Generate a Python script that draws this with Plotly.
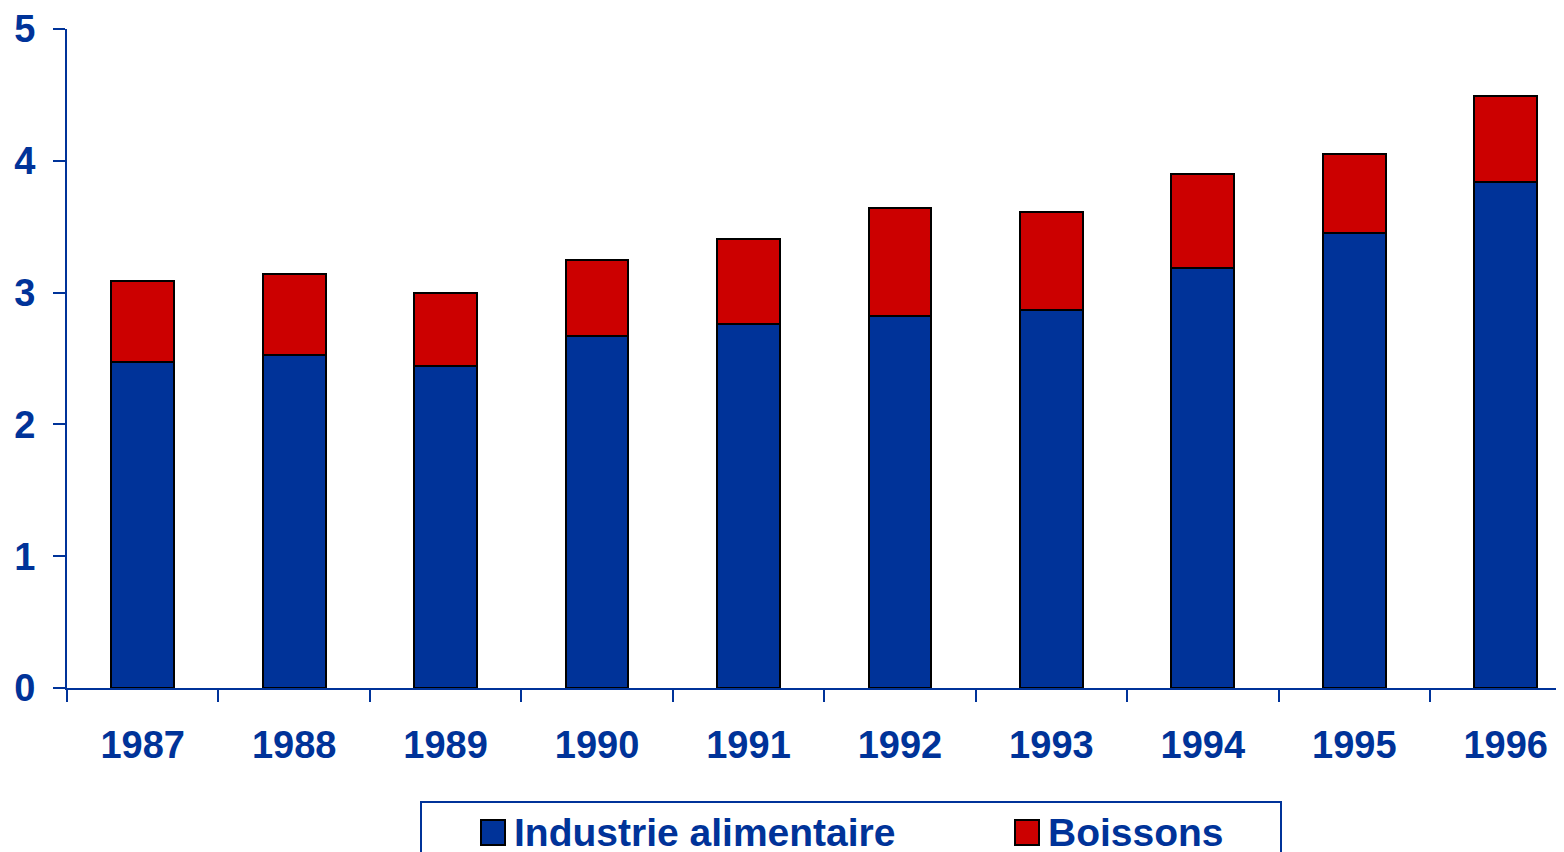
import plotly.graph_objects as go

years = ["1987", "1988", "1989", "1990", "1991", "1992", "1993", "1994", "1995", "1996"]
industrie = [2.47, 2.53, 2.44, 2.67, 2.76, 2.82, 2.87, 3.19, 3.45, 3.84]
boissons = [0.62, 0.61, 0.56, 0.58, 0.65, 0.82, 0.74, 0.71, 0.60, 0.65]
series_names = ["Industrie alimentaire", "Boissons"]
y_ticks = [0, 1, 2, 3, 4, 5]

BLUE = "#003399"
RED = "#CC0000"
TXT = "#003399"
FONT = "Liberation Sans, Arial, sans-serif"

OFF = 8  # page body margin
W, H = 1564, 852
ML, MR, MT = 67 - OFF, 0, 29 - OFF
MB = H - (688 - OFF)
pw = W - ML - MR
ph = H - MT - MB

def px(x):
    return (x - OFF - ML) / pw

def py(y):
    return (H - MB - (y - OFF)) / ph

fig = go.Figure()
fig.add_trace(go.Bar(x=years, y=industrie, name=series_names[0], marker=dict(color=BLUE, line=dict(color="black", width=2)), width=0.415, showlegend=False))
fig.add_trace(go.Bar(x=years, y=boissons, name=series_names[1], marker=dict(color=RED, line=dict(color="black", width=2)), width=0.415, showlegend=False))

cat_px = (1505 - 142) / 9.0
x_max = -0.5 + pw / cat_px

shapes = [
    dict(type="rect", xref="paper", yref="paper", x0=px(421), x1=px(1281), y0=py(802), y1=py(870),
         line=dict(color=BLUE, width=2), fillcolor="rgba(0,0,0,0)"),
    dict(type="rect", xref="paper", yref="paper", x0=px(481), x1=px(505), y0=py(820), y1=py(845),
         line=dict(color="black", width=2), fillcolor=BLUE),
    dict(type="rect", xref="paper", yref="paper", x0=px(1015), x1=px(1039), y0=py(820), y1=py(845),
         line=dict(color="black", width=2), fillcolor=RED),
]
lfont = dict(size=39, color=TXT, family=FONT, weight="bold")
annotations = [
    dict(text=series_names[0], xref="paper", yref="paper", x=px(512), y=py(832),
         xanchor="left", yanchor="middle", showarrow=False, font=lfont),
    dict(text=series_names[1], xref="paper", yref="paper", x=px(1046), y=py(832),
         xanchor="left", yanchor="middle", showarrow=False, font=lfont),
]

tfont = dict(size=38, color=TXT, family=FONT, weight="bold")
fig.update_layout(
    width=W, height=H,
    margin=dict(l=ML, r=MR, t=MT, b=MB, pad=0),
    barmode="stack",
    plot_bgcolor="white", paper_bgcolor="white",
    font=dict(family=FONT, color=TXT),
    shapes=shapes, annotations=annotations,
    xaxis=dict(type="category", range=[-0.5, x_max], showline=True, linecolor=BLUE, linewidth=2,
               ticks="outside", tickson="boundaries", ticklen=12, tickcolor=BLUE, tickwidth=2,
               tickfont=tfont, ticklabelstandoff=22,
               showgrid=False, zeroline=False),
    yaxis=dict(range=[0, 5], tickvals=y_ticks, showline=True, linecolor=BLUE, linewidth=2,
               ticks="outside", ticklen=12, tickcolor=BLUE, tickwidth=2,
               tickfont=tfont, ticklabelstandoff=10,
               showgrid=False, zeroline=False),
)

fig.write_html("out.html")
